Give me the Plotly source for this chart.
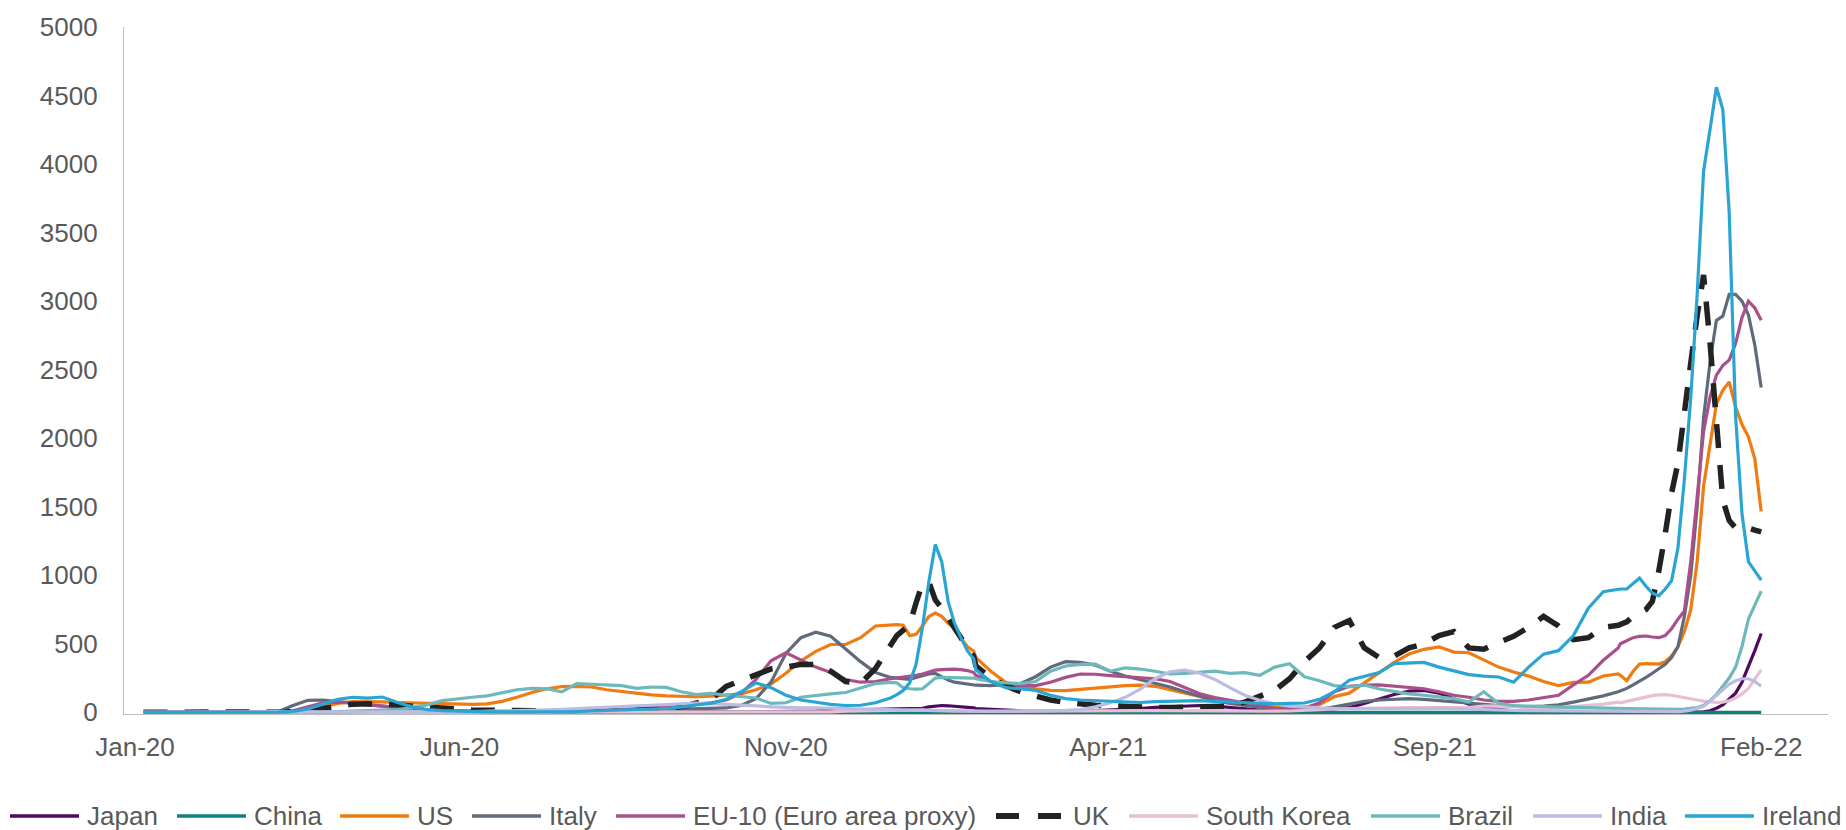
import pandas as pd
import plotly.graph_objects as go

# Sampling dates: weekly, tightened to every 3 days across the two sharp winter peaks
dates = (
    list(pd.date_range("2020-01-05", periods=51, freq="7D"))
    + list(pd.date_range("2020-12-23", periods=13, freq="3D"))
    + list(pd.date_range("2021-01-29", periods=44, freq="7D"))
    + list(pd.date_range("2021-11-27", periods=23, freq="3D"))
)

# New cases per million (7-day average)
japan = [
    0, 0, 0, 0, 0, 0.1, 0.1, 0.2, 0.3, 0.4, 0.4, 0.4, 0.8, 2, 3.5, 4, 3, 2, 1, 0.5,
    0.3, 0.3, 0.3, 0.4, 0.5, 0.8, 1.5, 3, 5, 6, 8, 11, 9, 7, 6, 5, 4, 4, 4, 4,
    4, 4, 5, 6, 7, 10, 15, 17, 18, 20, 22,
    24, 25, 26, 27, 30, 40, 45, 50, 48, 45, 42, 38, 33,
    28, 22, 14, 11, 9, 8, 9, 10, 13, 17, 22, 28, 36, 40, 45, 50, 45, 35, 25, 17,
    13, 12, 14, 18, 24, 35, 65, 100, 130, 155, 160, 140, 100, 60, 35, 20, 10, 6, 4, 3,
    2, 1.5, 1.2, 1,
    1, 1, 1, 1, 1.2, 1.3, 1.5, 1.8, 2, 2, 2, 2, 2, 4, 12, 30, 55, 95, 140, 220,
    330, 450, 575,
]
china = [
    0, 0, 0, 0.05, 0.8, 2.3, 2.0, 0.7, 0.3, 0.1, 0.03, 0.03, 0.05, 0.06, 0.05, 0.03, 0.02, 0.01, 0.01, 0.01,
    0.01, 0.01, 0.01, 0.02, 0.02, 0.01, 0.01, 0.01, 0.01, 0.02, 0.05, 0.05, 0.03, 0.02, 0.02, 0.01, 0.01, 0.01, 0.01, 0.01,
    0.01, 0.01, 0.02, 0.02, 0.01, 0.01, 0.01, 0.01, 0.01, 0.01, 0.01,
    0.01, 0.01, 0.02, 0.02, 0.03, 0.05, 0.06, 0.07, 0.07, 0.06, 0.05, 0.04, 0.03,
    0.03, 0.02, 0.01, 0.01, 0.01, 0.01, 0.01, 0.01, 0.01, 0.01, 0.01, 0.01, 0.01, 0.01, 0.01, 0.01, 0.01, 0.01, 0.02, 0.02,
    0.02, 0.02, 0.02, 0.02, 0.04, 0.05, 0.06, 0.07, 0.06, 0.05, 0.04, 0.03, 0.03, 0.03, 0.02, 0.02, 0.02, 0.03, 0.04, 0.05,
    0.05, 0.06, 0.05, 0.05,
    0.05, 0.05, 0.06, 0.06, 0.07, 0.08, 0.09, 0.1, 0.11, 0.12, 0.12, 0.11, 0.1, 0.1, 0.11, 0.12, 0.11, 0.1, 0.1, 0.09,
    0.09, 0.1, 0.1,
]
us = [
    0, 0, 0, 0, 0, 0, 0, 0, 0, 0.5, 2, 15, 40, 65, 78, 78, 76, 72, 68, 64,
    62, 60, 58, 62, 80, 110, 145, 172, 188, 190, 185, 165, 152, 142, 128, 120, 115, 114, 118, 125,
    135, 165, 207, 285, 375, 445, 495, 495, 545, 630, 640,
    640, 636, 560, 570, 630, 700, 725, 700, 650, 617, 540, 480, 445,
    400, 300, 220, 190, 172, 160, 158, 168, 180, 188, 195, 198, 190, 165, 138, 112, 90, 72, 55, 48,
    40, 38, 38, 55, 115, 140, 215, 290, 365, 425, 460, 478, 440, 435, 380, 330, 295, 265, 225, 195,
    218, 220, 265, 280,
    270, 232, 300, 352, 355, 355, 352, 370, 412, 480, 590, 750, 1100, 1650, 1950, 2250, 2350, 2410, 2230, 2100,
    2010, 1850, 1465,
]
italy = [
    0, 0, 0, 0, 0, 0, 0, 0, 0.5, 5, 50, 88, 90, 78, 65, 55, 45, 35, 25, 17,
    12, 9, 6, 5, 4, 4, 3, 3, 4, 4, 5, 7, 10, 15, 20, 22, 25, 25, 27, 32,
    50, 100, 220, 430, 545, 585, 555, 460, 370, 290, 255,
    250, 243, 240, 255, 267, 280, 285, 260, 235, 220, 212, 205, 200,
    198, 195, 200, 210, 260, 330, 370, 365, 345, 300, 265, 240, 210, 185, 150, 115, 85, 65, 50, 38,
    28, 20, 16, 20, 40, 62, 80, 90, 97, 100, 95, 85, 75, 65, 55, 50, 45, 40, 45, 55,
    75, 95, 120, 150,
    155, 175, 200, 225, 255, 285, 320, 350, 400, 480, 700, 1000, 1500, 2150, 2550, 2860, 2890, 3050, 3050, 3000,
    2900, 2680, 2370,
]
eu10 = [
    0, 0, 0, 0, 0, 0, 0, 0, 0, 2, 12, 40, 70, 75, 68, 55, 45, 35, 25, 18,
    13, 10, 8, 7, 7, 7, 7, 8, 9, 12, 15, 20, 25, 30, 35, 42, 50, 60, 70, 90,
    140, 240, 376, 435, 385, 330, 290, 240, 220, 225, 245,
    250, 255, 262, 270, 280, 295, 308, 312, 316, 316, 312, 305, 290,
    270, 225, 200, 195, 195, 220, 255, 280, 278, 268, 262, 255, 245, 225, 180, 135, 108, 88, 68, 45,
    30, 26, 28, 70, 150, 190, 198, 200, 190, 182, 172, 150, 125, 110, 90, 80, 80, 90, 105, 125,
    200, 270, 380, 470,
    500, 525, 545, 555, 557, 550, 545, 560, 610, 680, 740, 1100, 1600, 2050, 2300, 2460, 2530, 2570, 2690, 2880,
    3000, 2950, 2860,
]
uk = [
    0, 0, 0, 0, 0, 0, 0, 0, 0, 1, 4, 12, 30, 50, 60, 62, 60, 55, 45, 35,
    30, 25, 16, 14, 12, 11, 10, 9, 9, 10, 11, 13, 15, 16, 18, 25, 40, 70, 95, 190,
    235, 270, 316, 330, 350, 350, 300, 225, 212, 320, 480,
    560, 600, 640, 800, 940, 950, 820, 760, 690, 630, 545, 470, 410,
    340, 250, 195, 150, 120, 90, 72, 60, 52, 48, 42, 38, 35, 35, 35, 36, 38, 45, 75, 120,
    160, 245, 370, 470, 620, 670, 470, 400, 410, 470, 500, 560, 590, 470, 460, 510, 555, 620, 700, 630,
    530, 545, 620, 635,
    640, 660, 700, 730, 750, 810, 1030, 1300, 1600, 1820, 2150, 2550, 2894, 3191, 2700, 2100, 1550, 1400, 1345, 1345,
    1345, 1330, 1316,
]
south_korea = [
    0, 0, 0, 0, 0, 0, 0, 1, 8, 10, 4, 2, 2, 1.5, 1, 0.5, 0.5, 0.5, 0.5, 0.8,
    1, 1, 1, 1, 1, 1, 1, 1, 1, 1, 1, 1, 2, 4, 5, 4, 3, 2, 1.5, 1.5,
    1.5, 1.5, 1.5, 2, 2.5, 3, 4, 8, 10, 12, 17,
    18, 19, 20, 19, 18, 15, 13, 10, 9, 8, 8, 8, 8,
    8, 7, 7, 8, 8, 8, 8, 8, 9, 10, 12, 12, 13, 12, 11, 11, 11, 11, 11, 10,
    9, 10, 13, 20, 25, 28, 30, 32, 33, 35, 35, 35, 35, 37, 45, 48, 45, 30, 30, 32,
    42, 50, 60, 75,
    70, 80, 90, 105, 115, 122, 128, 130, 125, 115, 105, 98, 90, 82, 75, 72, 75, 85, 105, 135,
    175, 240, 310,
]
brazil = [
    0, 0, 0, 0, 0, 0, 0, 0, 0, 0, 0.2, 1, 3, 6, 10, 15, 18, 20, 35, 55,
    85, 100, 110, 120, 140, 165, 175, 172, 150, 210, 205, 200, 195, 175, 185, 182, 150, 130, 138, 125,
    115, 105, 65, 70, 110, 125, 135, 145, 180, 210, 218,
    215, 180, 172, 170, 172, 210, 250, 255, 255, 255, 255, 252, 250,
    245, 225, 215, 210, 225, 300, 338, 350, 352, 300, 325, 316, 300, 280, 285, 292, 300, 285, 290, 270,
    330, 355, 260, 230, 195, 185, 200, 170, 150, 135, 125, 115, 100, 75, 150, 65, 50, 45, 40, 38,
    36, 35, 34, 32,
    32, 30, 28, 26, 25, 24, 22, 22, 22, 22, 24, 28, 35, 50, 85, 130, 190, 250, 330, 480,
    680, 780, 885,
]
india = [
    0, 0, 0, 0, 0, 0, 0, 0, 0, 0, 0, 0, 0.1, 0.2, 0.4, 0.7, 1, 1.3, 2, 2.5,
    3.5, 5, 6, 7.5, 9, 11, 14, 18, 22, 28, 33, 38, 43, 47, 52, 57, 63, 67, 64, 60,
    53, 47, 40, 35, 33, 32, 30, 30, 27, 24, 20,
    18, 17, 16, 15, 14, 13, 13, 12, 11, 11, 10, 10, 10,
    9, 8, 8, 9, 10, 12, 15, 21, 40, 70, 110, 170, 245, 295, 308, 285, 240, 180, 125, 88,
    62, 46, 38, 33, 30, 29, 30, 30, 28, 25, 27, 30, 26, 24, 22, 18, 15, 12, 11, 10,
    9, 8, 7, 7,
    7, 6.5, 6.5, 6, 5.5, 5, 5, 5, 5, 6, 9, 16, 30, 45, 80, 125, 165, 205, 230, 245,
    245, 225, 190,
]
ireland = [
    0, 0, 0, 0, 0, 0, 0, 0, 0, 1, 6, 25, 60, 95, 110, 104, 112, 72, 40, 20,
    12, 8, 5, 4, 3, 3, 3, 4, 5, 6, 10, 14, 18, 20, 22, 28, 38, 55, 65, 95,
    150, 215, 180, 125, 90, 76, 58, 50, 52, 70, 105,
    130, 160, 215, 350, 620, 955, 1225, 1100, 810, 650, 545, 450, 390,
    310, 225, 180, 172, 160, 125, 100, 90, 85, 80, 75, 72, 78, 82, 85, 85, 80, 75, 70, 65,
    62, 65, 68, 95, 150, 235, 262, 290, 355, 362, 364, 330, 300, 275, 265, 258, 220, 330, 425, 450,
    560, 760, 880, 900,
    900, 900, 940, 980, 920, 870, 850, 900, 960, 1200, 1700, 2300, 3050, 3950, 4250, 4560, 4400, 3650, 2160, 1450,
    1100, 1030, 965,
]

series_names = ["Japan", "China", "US", "Italy", "EU-10 (Euro area proxy)", "UK",
                "South Korea", "Brazil", "India", "Ireland"]
series_values = [japan, china, us, italy, eu10, uk, south_korea, brazil, india, ireland]

x_tick_dates = ["2020-01-01", "2020-06-01", "2020-11-01", "2021-04-01", "2021-09-01", "2022-02-01"]
x_tick_labels = ["Jan-20", "Jun-20", "Nov-20", "Apr-21", "Sep-21", "Feb-22"]
y_tick_values = [0, 500, 1000, 1500, 2000, 2500, 3000, 3500, 4000, 4500, 5000]
y_tick_labels = ["0", "500", "1000", "1500", "2000", "2500", "3000", "3500", "4000", "4500", "5000"]

# ---- styling
colors = ["#4E0A5C", "#0F8080", "#F07B10", "#5F6A7A", "#A9508A", "#222222",
          "#E6BFD3", "#6DB8BB", "#BCBCE2", "#2AA4D2"]
widths = [3.2, 3.2, 3.2, 3.2, 3.2, 5.5, 3.2, 3.2, 3.2, 3.2]
dashes = ["solid"] * 5 + ["24px,17px"] + ["solid"] * 4

FONT = "Liberation Sans, Arial, sans-serif"
TEXT_COLOR = "#595959"
AXIS_COLOR = "#BFBFBF"

W, H = 1846, 830
PLOT_L, PLOT_R, PLOT_T, PLOT_B = 124, 1828, 21, 714


def paper_x(px):
    return (px - PLOT_L) / (PLOT_R - PLOT_L)


def paper_y(py):
    return (PLOT_B - py) / (PLOT_B - PLOT_T)


fig = go.Figure()
for name, vals, col, w, d in zip(series_names, series_values, colors, widths, dashes):
    fig.add_trace(go.Scatter(
        x=dates, y=vals, name=name, mode="lines",
        line=dict(color=col, width=w, dash=d),
        showlegend=False,
    ))

# Legend row drawn beneath the plot: sample line + label per series
legend_starts = [10, 177, 340, 472, 616, 996, 1129, 1371, 1533, 1685]
legend_y = paper_y(817)
shapes = []
annotations = []
for name, col, w, d, s in zip(series_names, colors, widths, dashes, legend_starts):
    shapes.append(dict(
        type="line", xref="paper", yref="paper",
        x0=paper_x(s), x1=paper_x(s + 69), y0=legend_y, y1=legend_y,
        line=dict(color=col, width=w + 0.3 if w < 5 else 6,
                  dash="23px,19px" if d != "solid" else "solid"),
    ))
    annotations.append(dict(
        xref="paper", yref="paper", x=paper_x(s + 75), y=legend_y,
        xanchor="left", yanchor="middle", showarrow=False,
        text=name, font=dict(family=FONT, size=26, color=TEXT_COLOR),
    ))

fig.update_layout(
    width=W, height=H,
    margin=dict(l=PLOT_L, r=W - PLOT_R, t=PLOT_T, b=H - PLOT_B),
    paper_bgcolor="white", plot_bgcolor="white",
    font=dict(family=FONT, size=26, color=TEXT_COLOR),
    showlegend=False,
    shapes=shapes,
    annotations=annotations,
    xaxis=dict(
        type="date",
        range=["2019-12-26 20:17", "2022-03-04 07:12"],
        tickmode="array", tickvals=x_tick_dates, ticktext=x_tick_labels,
        showgrid=False, zeroline=False,
        showline=True, linecolor=AXIS_COLOR, linewidth=1.3,
        ticks="", ticklabelstandoff=10,
        tickfont=dict(family=FONT, size=26, color=TEXT_COLOR),
    ),
    yaxis=dict(
        range=[-12, 5000],
        tickmode="array", tickvals=y_tick_values, ticktext=y_tick_labels,
        showgrid=False, zeroline=False,
        showline=True, linecolor=AXIS_COLOR, linewidth=1.3,
        ticks="", ticklabelstandoff=20,
        tickfont=dict(family=FONT, size=26, color=TEXT_COLOR),
    ),
)

fig.write_html("out.html")
